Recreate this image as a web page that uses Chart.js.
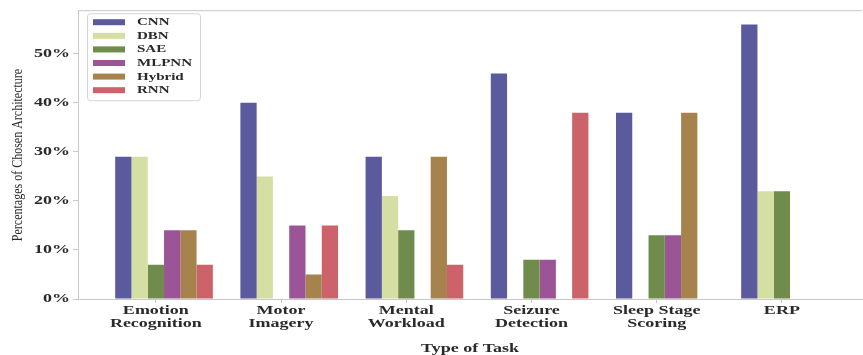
<!DOCTYPE html>
<html>
<head>
<meta charset="utf-8">
<script src="https://cdn.jsdelivr.net/npm/chart.js@4.4.1/dist/chart.umd.min.js"></script>
<style>
  html, body { margin: 0; padding: 0; background: #ffffff; }
  #wrap { width: 863px; height: 355px; position: relative; }
</style>
</head>
<body>
<div id="wrap"><canvas id="c" width="863" height="355"></canvas></div>
<script>
// ---- data ----
const categories = [
  ['Emotion', 'Recognition'],
  ['Motor', 'Imagery'],
  ['Mental', 'Workload'],
  ['Seizure', 'Detection'],
  ['Sleep Stage', 'Scoring'],
  ['ERP']
];
const seriesNames = ['CNN', 'DBN', 'SAE', 'MLPNN', 'Hybrid', 'RNN'];
const cnnValues    = [29, 40, 29, 46, 38, 56];
const dbnValues    = [29, 25, 21, 0, 0, 22];
const saeValues    = [7, 0, 14, 8, 13, 22];
const mlpnnValues  = [14, 15, 0, 8, 13, 0];
const hybridValues = [14, 5, 29, 0, 38, 0];
const rnnValues    = [7, 15, 7, 38, 0, 0];
const yTickValues  = [0, 10, 20, 30, 40, 50];
const xAxisTitle = 'Type of Task';
const yAxisTitle = 'Percentages of Chosen Architecture';

// ---- styling ----
const seriesColors = ['#5a5a9c', '#d5dfa4', '#6f8c4c', '#9b5597', '#a6834c', '#cc626a'];
const allValues = [cnnValues, dbnValues, saeValues, mlpnnValues, hybridValues, rnnValues];
const GROUP_FRACTION = 0.78;
const BAR_UNIT = GROUP_FRACTION / seriesNames.length;
const TICK_SHIFT = -0.5 * BAR_UNIT;   // ticks sit under the third bar of each group
const SERIF = "'Liberation Serif', 'Times New Roman', serif";
const TEXT_COLOR = '#2a2a2a';
const SPINE_COLOR = '#c8c8c8';
const TEXT_STRETCH = 1.5;             // reference text is horizontally stretched

const datasets = seriesNames.map((name, k) => ({
  label: name,
  data: allValues[k].map((v, i) => ({ x: i, y: v })),
  backgroundColor: seriesColors[k],
  borderWidth: 0,
  categoryPercentage: GROUP_FRACTION,
  barPercentage: 1.0
}));

const stretchPlugin = {
  id: 'stretch',
  beforeDraw(chart) {
    const ctx = chart.ctx;
    if (!ctx.__stretchWrapped) {
      const orig = ctx.fillText.bind(ctx);
      ctx.fillText = function (t, x, y, mw) {
        const s = this.__textStretch || 1;
        if (s !== 1) {
          this.save();
          this.translate(x, y);
          this.scale(s, 1);
          orig(t, 0, 0);
          this.restore();
        } else if (mw !== undefined) {
          orig(t, x, y, mw);
        } else {
          orig(t, x, y);
        }
      };
      ctx.__stretchWrapped = true;
    }
    ctx.__textStretch = TEXT_STRETCH;
  }
};

const decorPlugin = {
  id: 'decor',
  afterDraw(chart) {
    const ctx = chart.ctx;
    const a = chart.chartArea;
    // top spine
    ctx.save();
    ctx.strokeStyle = SPINE_COLOR;
    ctx.lineWidth = 1;
    ctx.beginPath();
    ctx.moveTo(a.left, a.top + 0.5);
    ctx.lineTo(a.right, a.top + 0.5);
    ctx.stroke();

    // y axis title (not stretched along its length)
    ctx.__textStretch = 1;
    ctx.fillStyle = TEXT_COLOR;
    ctx.font = '12px ' + SERIF;
    ctx.textAlign = 'center';
    ctx.textBaseline = 'middle';
    ctx.translate(18, 155);
    ctx.rotate(-Math.PI / 2);
    ctx.scale(1, 1.25);
    ctx.fillText(yAxisTitle, 0, 0);
    ctx.restore();
    ctx.__textStretch = TEXT_STRETCH;

    // legend (inside plot, upper left)
    ctx.save();
    const lx = a.left + 9, ly = a.top + 3, lw = 113, lh = 87;
    ctx.fillStyle = 'rgba(255,255,255,0.85)';
    ctx.strokeStyle = '#d4d4d4';
    ctx.lineWidth = 1;
    ctx.beginPath();
    ctx.roundRect(lx + 0.5, ly + 0.5, lw, lh, 3);
    ctx.fill();
    ctx.stroke();
    ctx.font = 'bold 10px ' + SERIF;
    ctx.textAlign = 'left';
    ctx.textBaseline = 'middle';
    chart.data.datasets.forEach((ds, k) => {
      const cy = ly + 9 + k * 13.6;
      ctx.fillStyle = ds.backgroundColor;
      ctx.fillRect(lx + 6, cy - 3, 32, 6);
      ctx.fillStyle = TEXT_COLOR;
      ctx.fillText(ds.label, lx + 50, cy + 0.5);
    });
    ctx.restore();
  }
};

new Chart(document.getElementById('c'), {
  type: 'bar',
  data: { datasets },
  plugins: [stretchPlugin, decorPlugin],
  options: {
    responsive: false,
    animation: false,
    layout: { padding: { top: 7, right: 1, left: 0, bottom: 0 } },
    plugins: { legend: { display: false }, tooltip: { enabled: false } },
    scales: {
      x: {
        type: 'linear',
        min: -0.687,
        max: 5.575,
        offset: false,
        grid: { offset: false, drawOnChartArea: false, drawTicks: true, tickLength: 4, color: SPINE_COLOR },
        border: { color: SPINE_COLOR },
        afterBuildTicks(scale) {
          scale.ticks = categories.map((c, i) => ({ value: i + TICK_SHIFT }));
        },
        ticks: {
          autoSkip: false,
          maxRotation: 0,
          padding: 1,
          color: TEXT_COLOR,
          font: { family: SERIF, size: 12, weight: 'bold', lineHeight: 1.1 },
          callback: (value, index) => categories[index]
        },
        title: {
          display: true,
          text: xAxisTitle,
          color: TEXT_COLOR,
          font: { family: SERIF, size: 12, weight: 'bold', lineHeight: 1.0 },
          padding: { top: 0, bottom: 0 }
        },
        afterFit(scale) { scale.height = 56; }
      },
      y: {
        min: 0,
        max: 58.9,
        grid: { drawOnChartArea: false, drawTicks: true, tickLength: 5, color: SPINE_COLOR },
        border: { color: SPINE_COLOR },
        afterBuildTicks(scale) {
          scale.ticks = yTickValues.map(v => ({ value: v }));
        },
        ticks: {
          padding: 3,
          color: TEXT_COLOR,
          font: { family: SERIF, size: 12, weight: 'bold' },
          callback: v => v + '%'
        },
        afterFit(scale) { scale.width = 78; }
      }
    }
  }
});
</script>
</body>
</html>
